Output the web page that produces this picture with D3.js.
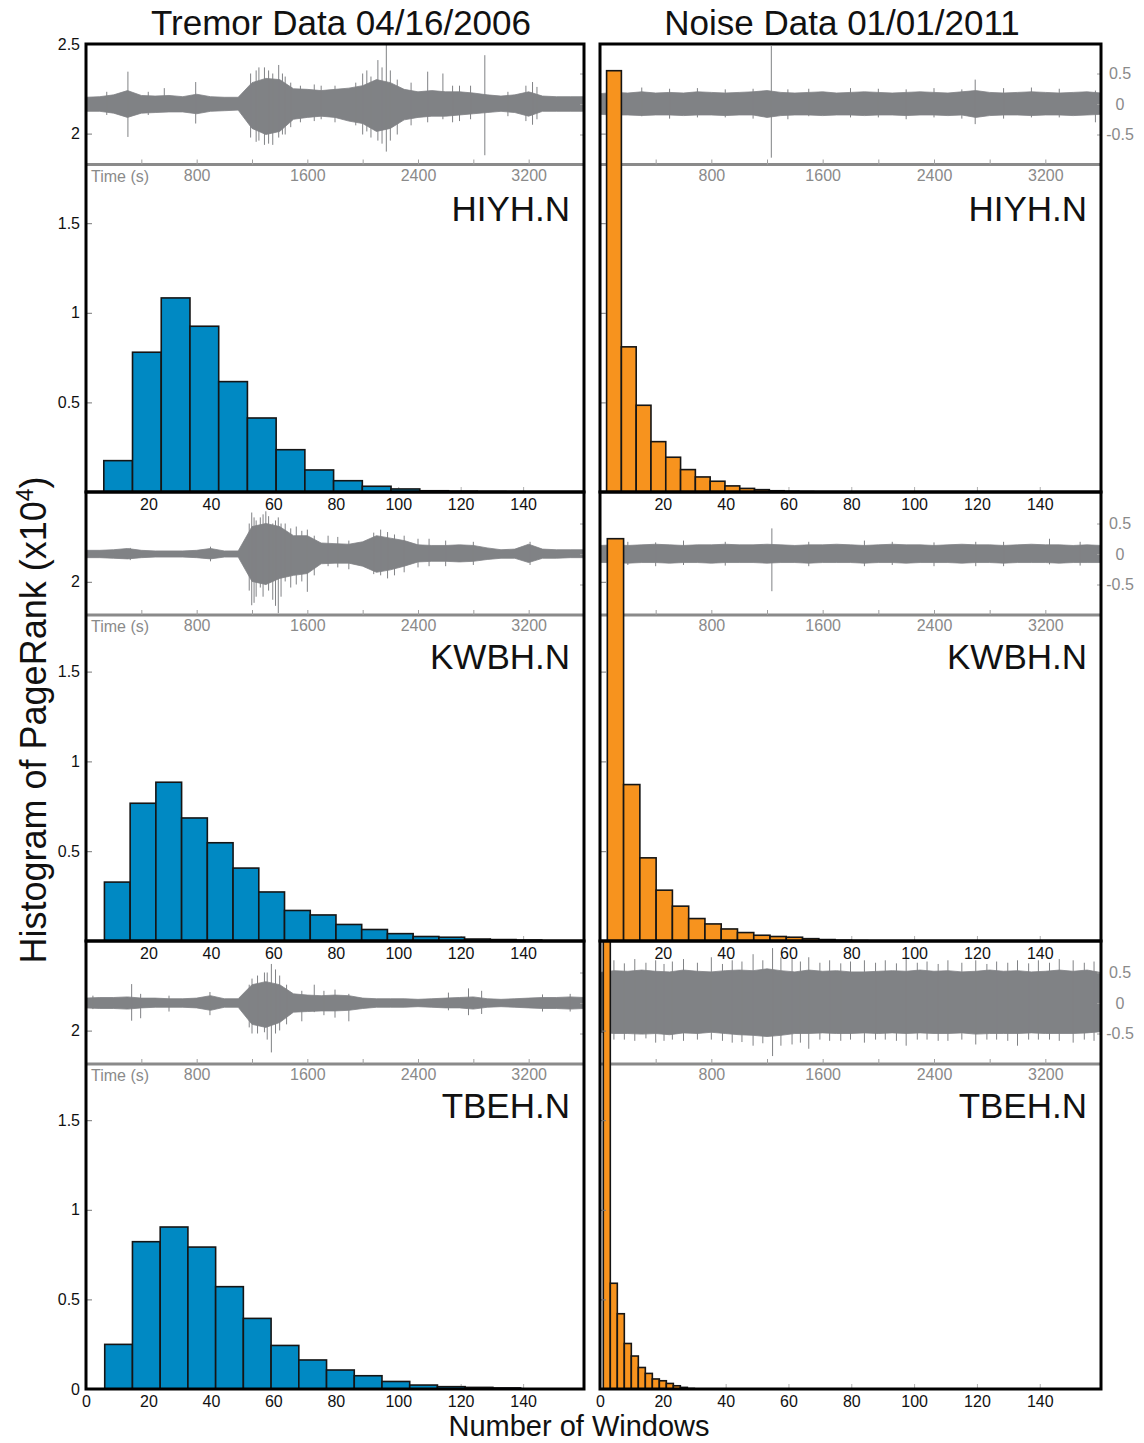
<!DOCTYPE html>
<html>
<head>
<meta charset="utf-8">
<script src="https://cdn.jsdelivr.net/npm/d3@7"></script>
<style>
  body { margin: 0; background: #fff; }
  text { font-family: "Liberation Sans", Arial, Helvetica, sans-serif; }
</style>
</head>
<body>
<script>
// ---- data ----
const stations = ['HIYH.N', 'KWBH.N', 'TBEH.N']
const columnTitles = ['Tremor Data 04/16/2006', 'Noise Data 01/01/2011']

// histograms of PageRank (x10^4) vs number of windows
const tremorBinStart = [5.7, 5.9, 6.0]
const tremorBinWidth = [9.2, 8.24, 8.88]
const tremorHIYH = [0.175, 0.78, 1.083, 0.925, 0.616, 0.413, 0.236, 0.123, 0.063, 0.032, 0.017, 0.007, 0.004, 0.002, 0.001, 0.001]
const tremorKWBH = [0.328, 0.767, 0.884, 0.685, 0.547, 0.406, 0.273, 0.17, 0.145, 0.092, 0.064, 0.041, 0.025, 0.021, 0.011, 0.008, 0.005]
const tremorTBEH = [0.249, 0.822, 0.904, 0.792, 0.571, 0.394, 0.243, 0.162, 0.106, 0.074, 0.042, 0.022, 0.013, 0.009, 0.006]

const noiseBinStart = [2.1, 2.33, 1.05]
const noiseBinWidth = [4.71, 5.18, 2.23]
const noiseHIYH = [2.351, 0.81, 0.484, 0.281, 0.194, 0.125, 0.084, 0.06, 0.034, 0.02, 0.013, 0.007, 0.004, 0.002, 0.001]
const noiseKWBH = [2.24, 0.871, 0.463, 0.283, 0.194, 0.125, 0.095, 0.067, 0.047, 0.032, 0.025, 0.021, 0.013, 0.008, 0.004, 0.002, 0.001]
const noiseTBEH = [2.6, 0.59, 0.42, 0.254, 0.184, 0.12, 0.087, 0.056, 0.046, 0.031, 0.018, 0.009, 0.003]

// waveform insets: envelope every 100 s, plus single spikes [time, top, bottom]
const waveTimes = [0, 100, 200, 300, 400, 500, 600, 700, 800, 900, 1000, 1100, 1200, 1300, 1400, 1500, 1600, 1700, 1800,
  1900, 2000, 2100, 2200, 2300, 2400, 2500, 2600, 2700, 2800, 2900, 3000, 3100, 3200, 3300, 3400, 3500, 3600]

const tremorHIYHUpper = [0.11, 0.12, 0.15, 0.22, 0.14, 0.13, 0.14, 0.12, 0.16, 0.12, 0.11, 0.11, 0.35, 0.42, 0.4, 0.25, 0.24, 0.22, 0.24,
  0.26, 0.3, 0.4, 0.35, 0.24, 0.2, 0.22, 0.2, 0.2, 0.18, 0.15, 0.13, 0.15, 0.2, 0.13, 0.12, 0.12, 0.12]
const tremorHIYHLower = [-0.12, -0.12, -0.15, -0.22, -0.15, -0.14, -0.13, -0.13, -0.16, -0.12, -0.11, -0.1, -0.4, -0.5, -0.45, -0.25, -0.22, -0.2, -0.22,
  -0.28, -0.32, -0.45, -0.4, -0.26, -0.22, -0.2, -0.2, -0.18, -0.16, -0.14, -0.12, -0.14, -0.2, -0.12, -0.12, -0.12, -0.12]
const tremorHIYHSpikes = [[150, 0.2, -0.18], [303, 0.53, -0.54], [450, 0.2, -0.18], [566, 0.26, -0.1], [793, 0.36, -0.32],
  [1190, 0.5, -0.55], [1230, 0.55, -0.62], [1250, 0.6, -0.6], [1290, 0.6, -0.67], [1320, 0.55, -0.65], [1350, 0.5, -0.67],
  [1393, 0.64, -0.55], [1420, 0.5, -0.5], [1440, 0.45, -0.5], [1480, 0.35, -0.38], [1550, 0.3, -0.3], [1650, 0.32, -0.28],
  [1700, 0.3, -0.25], [1800, 0.3, -0.3], [1950, 0.35, -0.35], [2000, 0.5, -0.5], [2030, 0.55, -0.45], [2060, 0.45, -0.55],
  [2110, 0.72, -0.6], [2140, 0.6, -0.65], [2171, 0.98, -0.78], [2200, 0.55, -0.6], [2250, 0.4, -0.5], [2350, 0.35, -0.35],
  [2470, 0.53, -0.3], [2580, 0.5, -0.25], [2650, 0.3, -0.3], [2700, 0.3, -0.28], [2780, 0.3, -0.25], [2883, 0.8, -0.84],
  [3050, 0.2, -0.2], [3180, 0.3, -0.28], [3228, 0.36, -0.34], [3260, 0.28, -0.25]]

const tremorKWBHUpper = [0.06, 0.06, 0.07, 0.09, 0.06, 0.05, 0.05, 0.05, 0.06, 0.09, 0.05, 0.05, 0.45, 0.5, 0.45, 0.3, 0.3, 0.18, 0.17,
  0.16, 0.2, 0.3, 0.26, 0.22, 0.15, 0.14, 0.14, 0.15, 0.14, 0.1, 0.07, 0.08, 0.16, 0.08, 0.07, 0.07, 0.07]
const tremorKWBHLower = [-0.06, -0.06, -0.07, -0.08, -0.06, -0.05, -0.05, -0.05, -0.06, -0.08, -0.05, -0.05, -0.45, -0.5, -0.4, -0.35, -0.32, -0.16, -0.15,
  -0.15, -0.2, -0.3, -0.26, -0.2, -0.13, -0.12, -0.12, -0.13, -0.12, -0.09, -0.07, -0.07, -0.14, -0.07, -0.07, -0.06, -0.06]
const tremorKWBHSpikes = [[320, 0.1, -0.1], [900, 0.12, -0.12], [1180, 0.5, -0.6], [1198, 0.68, -0.84], [1215, 0.6, -0.8],
  [1230, 0.55, -0.7], [1260, 0.6, -0.55], [1280, 0.65, -0.7], [1300, 0.7, -0.5], [1320, 0.62, -0.6], [1350, 0.5, -0.75],
  [1370, 0.55, -0.85], [1390, 0.6, -0.97], [1410, 0.5, -0.7], [1440, 0.5, -0.45], [1480, 0.42, -0.55], [1520, 0.45, -0.5],
  [1560, 0.38, -0.45], [1600, 0.4, -0.62], [1650, 0.3, -0.35], [1750, 0.3, -0.2], [1820, 0.28, -0.22], [1900, 0.22, -0.25],
  [2080, 0.35, -0.33], [2130, 0.4, -0.35], [2180, 0.36, -0.4], [2230, 0.32, -0.35], [2300, 0.3, -0.3], [2400, 0.25, -0.22],
  [2480, 0.25, -0.2], [2600, 0.22, -0.2], [2800, 0.2, -0.18], [3210, 0.2, -0.18]]

const tremorTBEHUpper = [0.08, 0.09, 0.09, 0.1, 0.08, 0.08, 0.07, 0.07, 0.08, 0.12, 0.07, 0.07, 0.3, 0.35, 0.3, 0.15, 0.13, 0.12, 0.13,
  0.12, 0.08, 0.07, 0.07, 0.07, 0.06, 0.07, 0.08, 0.09, 0.1, 0.07, 0.06, 0.07, 0.08, 0.09, 0.09, 0.1, 0.09]
const tremorTBEHLower = [-0.08, -0.09, -0.09, -0.1, -0.08, -0.07, -0.07, -0.07, -0.08, -0.12, -0.07, -0.07, -0.35, -0.4, -0.32, -0.15, -0.14, -0.13, -0.13,
  -0.12, -0.09, -0.07, -0.07, -0.07, -0.06, -0.07, -0.08, -0.08, -0.1, -0.07, -0.06, -0.07, -0.08, -0.09, -0.09, -0.1, -0.09]
const tremorTBEHSpikes = [[50, 0.12, -0.1], [330, 0.31, -0.29], [395, 0.15, -0.25], [600, 0.12, -0.14], [896, 0.18, -0.2],
  [1180, 0.3, -0.4], [1200, 0.4, -0.5], [1240, 0.45, -0.5], [1290, 0.5, -0.48], [1310, 0.5, -0.6], [1340, 0.64, -0.81],
  [1370, 0.55, -0.5], [1400, 0.45, -0.45], [1450, 0.3, -0.35], [1560, 0.2, -0.3], [1650, 0.3, -0.15], [1720, 0.2, -0.2],
  [1800, 0.22, -0.24], [1900, 0.15, -0.3], [2620, 0.17, -0.12], [2765, 0.24, -0.2], [2860, 0.2, -0.18], [3300, 0.14, -0.14],
  [3500, 0.15, -0.14]]

const noiseHIYHUpper = [0.17, 0.19, 0.18, 0.2, 0.18, 0.19, 0.18, 0.2, 0.19, 0.18, 0.19, 0.2, 0.22, 0.19, 0.18, 0.19, 0.2, 0.18, 0.19,
  0.2, 0.19, 0.18, 0.19, 0.2, 0.19, 0.18, 0.2, 0.22, 0.19, 0.18, 0.19, 0.2, 0.19, 0.18, 0.19, 0.2, 0.18]
const noiseHIYHLower = [-0.17, -0.18, -0.18, -0.19, -0.18, -0.18, -0.19, -0.18, -0.18, -0.19, -0.18, -0.18, -0.22, -0.19, -0.18, -0.18, -0.19, -0.18, -0.18,
  -0.19, -0.18, -0.18, -0.19, -0.18, -0.18, -0.19, -0.18, -0.22, -0.19, -0.18, -0.18, -0.19, -0.18, -0.18, -0.19, -0.18, -0.17]
const noiseHIYHSpikes = [[100, 0.24, -0.22], [300, 0.27, -0.2], [500, 0.25, -0.24], [700, 0.26, -0.22], [900, 0.24, -0.22],
  [1100, 0.25, -0.24], [1231, 0.95, -0.88], [1350, 0.24, -0.25], [1500, 0.25, -0.2], [1800, 0.26, -0.22], [2000, 0.25, -0.22],
  [2200, 0.24, -0.25], [2400, 0.26, -0.22], [2600, 0.24, -0.24], [2696, 0.4, -0.33], [2900, 0.26, -0.24], [3100, 0.27, -0.22],
  [3300, 0.25, -0.22], [3560, 0.22, -0.3]]

const noiseKWBHUpper = [0.14, 0.15, 0.14, 0.15, 0.16, 0.15, 0.14, 0.15, 0.15, 0.16, 0.15, 0.15, 0.16, 0.15, 0.14, 0.15, 0.15, 0.16, 0.15,
  0.14, 0.15, 0.16, 0.15, 0.15, 0.14, 0.15, 0.16, 0.15, 0.15, 0.14, 0.15, 0.16, 0.15, 0.15, 0.14, 0.15, 0.14]
const noiseKWBHLower = [-0.14, -0.14, -0.15, -0.14, -0.14, -0.15, -0.14, -0.14, -0.15, -0.14, -0.14, -0.14, -0.15, -0.14, -0.14, -0.15, -0.14, -0.14, -0.14,
  -0.15, -0.14, -0.14, -0.15, -0.14, -0.14, -0.14, -0.15, -0.14, -0.14, -0.15, -0.14, -0.14, -0.14, -0.15, -0.14, -0.14, -0.14]
const noiseKWBHSpikes = [[200, 0.2, -0.18], [400, 0.19, -0.2], [600, 0.22, -0.18], [900, 0.2, -0.19], [1235, 0.42, -0.61],
  [1500, 0.2, -0.2], [1900, 0.22, -0.2], [2100, 0.2, -0.18], [2400, 0.19, -0.2], [2700, 0.2, -0.2], [2900, 0.2, -0.2],
  [3230, 0.25, -0.17], [3450, 0.2, -0.19]]

const noiseTBEHUpper = [0.5, 0.53, 0.52, 0.54, 0.52, 0.51, 0.54, 0.52, 0.51, 0.53, 0.54, 0.53, 0.56, 0.53, 0.51, 0.54, 0.52, 0.53, 0.51,
  0.51, 0.52, 0.53, 0.52, 0.54, 0.52, 0.53, 0.51, 0.52, 0.54, 0.52, 0.53, 0.51, 0.52, 0.54, 0.52, 0.54, 0.5]
const noiseTBEHLower = [-0.48, -0.5, -0.5, -0.51, -0.5, -0.52, -0.49, -0.5, -0.48, -0.5, -0.52, -0.53, -0.55, -0.53, -0.5, -0.5, -0.49, -0.5, -0.5,
  -0.49, -0.5, -0.49, -0.5, -0.49, -0.5, -0.5, -0.49, -0.51, -0.5, -0.5, -0.5, -0.49, -0.5, -0.5, -0.5, -0.49, -0.47]
const noiseTBEHSpikes = [[30, 0.62, -0.58], [100, 0.7, -0.6], [175, 0.65, -0.6], [250, 0.72, -0.62], [330, 0.66, -0.58],
  [400, 0.7, -0.65], [460, 0.64, -0.62], [520, 0.68, -0.6], [600, 0.72, -0.62], [700, 0.66, -0.6], [800, 0.75, -0.6],
  [880, 0.64, -0.62], [950, 0.7, -0.65], [1020, 0.68, -0.64], [1100, 0.8, -0.7], [1170, 0.7, -0.66], [1240, 0.9, -0.87],
  [1300, 0.75, -0.7], [1380, 0.72, -0.68], [1440, 0.68, -0.65], [1500, 0.75, -0.75], [1580, 0.66, -0.6], [1650, 0.7, -0.62],
  [1730, 0.65, -0.62], [1800, 0.68, -0.6], [1900, 0.7, -0.65], [1980, 0.66, -0.6], [2050, 0.7, -0.6], [2130, 0.65, -0.62],
  [2200, 0.72, -0.7], [2280, 0.66, -0.6], [2350, 0.68, -0.6], [2430, 0.64, -0.62], [2500, 0.7, -0.62], [2600, 0.66, -0.6],
  [2700, 0.7, -0.68], [2780, 0.64, -0.6], [2850, 0.68, -0.6], [2930, 0.66, -0.62], [3000, 0.7, -0.7], [3080, 0.65, -0.6],
  [3150, 0.7, -0.6], [3230, 0.66, -0.6], [3300, 0.72, -0.62], [3400, 0.7, -0.65], [3480, 0.66, -0.6], [3550, 0.68, -0.62],
  [3600, 0.6, -0.58]]

// tick values
const histTicks = [20, 40, 60, 80, 100, 120, 140]
const histTicksBottom = [0, 20, 40, 60, 80, 100, 120, 140]
const rankTicks = [0.5, 1, 1.5, 2]
const timeTicks = [400, 800, 1200, 1600, 2000, 2400, 2800, 3200]
const timeLabels = [800, 1600, 2400, 3200]
const ampTicks = [0.5, 0, -0.5]

// ---- layout ----
const colX = [[86, 584], [600, 1101]]
const rowY = [[44, 492], [492, 941], [941, 1389]]
const insetMid = [104, 554, 1003]
const insetBase = [164.5, 615, 1064]
const barColors = ['#0089c3', '#f7931e']
const waveColor = '#808285'

const panels = [
  { r: 0, c: 0, counts: tremorHIYH, start: tremorBinStart[0], width: tremorBinWidth[0], up: tremorHIYHUpper, lo: tremorHIYHLower, spikes: tremorHIYHSpikes },
  { r: 1, c: 0, counts: tremorKWBH, start: tremorBinStart[1], width: tremorBinWidth[1], up: tremorKWBHUpper, lo: tremorKWBHLower, spikes: tremorKWBHSpikes },
  { r: 2, c: 0, counts: tremorTBEH, start: tremorBinStart[2], width: tremorBinWidth[2], up: tremorTBEHUpper, lo: tremorTBEHLower, spikes: tremorTBEHSpikes },
  { r: 0, c: 1, counts: noiseHIYH, start: noiseBinStart[0], width: noiseBinWidth[0], up: noiseHIYHUpper, lo: noiseHIYHLower, spikes: noiseHIYHSpikes },
  { r: 1, c: 1, counts: noiseKWBH, start: noiseBinStart[1], width: noiseBinWidth[1], up: noiseKWBHUpper, lo: noiseKWBHLower, spikes: noiseKWBHSpikes },
  { r: 2, c: 1, counts: noiseTBEH, start: noiseBinStart[2], width: noiseBinWidth[2], up: noiseTBEHUpper, lo: noiseTBEHLower, spikes: noiseTBEHSpikes }
]

panels.forEach(p => {
  p.left = colX[p.c][0]
  p.right = colX[p.c][1]
  p.top = rowY[p.r][0]
  p.bottom = rowY[p.r][1]
  p.x = d3.scaleLinear().domain([0, 159.5]).range([p.left, p.right])
  p.y = d3.scaleLinear().domain([0, 2.5]).range([p.bottom, p.top])
  p.t = d3.scaleLinear().domain([0, 3600]).range([p.left, p.right])
  p.a = d3.scaleLinear().domain([-0.5, 0.5]).range([insetMid[p.r] + 30.5, insetMid[p.r] - 30.5])
  p.id = 'clip-' + p.r + '-' + p.c
})

const svg = d3.select('body').append('svg')
  .attr('width', 1144)
  .attr('height', 1443)

const defs = svg.append('defs')
panels.forEach(p => {
  defs.append('clipPath').attr('id', p.id)
    .append('rect')
    .attr('x', p.left).attr('y', p.top)
    .attr('width', p.right - p.left).attr('height', p.bottom - p.top)
})

// waveform insets
const waveLayer = svg.append('g')
panels.forEach(p => {
  const g = waveLayer.append('g').attr('clip-path', 'url(#' + p.id + ')')
  const area = d3.area()
    .x((d, i) => p.t(waveTimes[i]))
    .y0(d => p.a(d[1]))
    .y1(d => p.a(d[0]))
  g.append('path')
    .datum(d3.zip(p.up, p.lo))
    .attr('d', area)
    .attr('fill', waveColor)
    .attr('stroke', waveColor)
    .attr('stroke-width', 0.8)
  g.selectAll('line.spike')
    .data(p.spikes)
    .join('line')
    .attr('class', 'spike')
    .attr('x1', d => p.t(d[0])).attr('x2', d => p.t(d[0]))
    .attr('y1', d => p.a(d[1])).attr('y2', d => p.a(d[2]))
    .attr('stroke', waveColor)
    .attr('stroke-width', 1)

  // time axis of the inset
  waveLayer.append('line')
    .attr('x1', p.left).attr('x2', p.right)
    .attr('y1', insetBase[p.r]).attr('y2', insetBase[p.r])
    .attr('stroke', '#8a8a8a').attr('stroke-width', 3)
  const ta = waveLayer.append('g')
    .attr('transform', 'translate(0,' + insetBase[p.r] + ')')
    .call(d3.axisBottom(p.t).tickValues(timeTicks).tickSizeInner(-5).tickSizeOuter(0).tickPadding(5)
      .tickFormat(d => timeLabels.includes(d) ? d : ''))
  ta.select('.domain').remove()
  ta.selectAll('line').attr('stroke', '#a0a0a0')
  ta.selectAll('text').attr('fill', '#8a8a8a').style('font-size', '16px')
  if (p.c === 0) {
    waveLayer.append('text')
      .attr('x', p.left + 5).attr('y', insetBase[p.r] + 17)
      .attr('fill', '#8a8a8a').style('font-size', '16px')
      .text('Time (s)')
  }

  // amplitude ticks on the right of the inset
  const aa = waveLayer.append('g')
    .attr('transform', 'translate(' + p.right + ',0)')
    .call(d3.axisRight(p.a).tickValues(ampTicks).tickSizeInner(-4).tickSizeOuter(0).tickPadding(6)
      .tickFormat(d => p.c === 1 ? String(d) : ''))
  aa.select('.domain').remove()
  aa.selectAll('line').attr('stroke', '#a0a0a0')
  aa.selectAll('text').attr('fill', '#8a8a8a').attr('text-anchor', 'middle').attr('x', 19)
    .style('font-size', '16px')
})

// histogram x tick marks (under the bars)
panels.forEach(p => {
  const xa = svg.append('g')
    .attr('transform', 'translate(0,' + p.bottom + ')')
    .call(d3.axisBottom(p.x).tickValues(histTicksBottom).tickSizeInner(-5).tickSizeOuter(0).tickFormat(''))
  xa.select('.domain').remove()
  xa.selectAll('line').attr('stroke', '#b0b0b0')
})

// histogram bars
panels.forEach(p => {
  const bins = p.counts.map((c, i) => ({ x0: p.start + i * p.width, x1: p.start + (i + 1) * p.width, c: c }))
  svg.append('g')
    .attr('clip-path', 'url(#' + p.id + ')')
    .selectAll('rect')
    .data(bins)
    .join('rect')
    .attr('x', d => p.x(d.x0))
    .attr('y', d => p.y(d.c))
    .attr('width', d => p.x(d.x1) - p.x(d.x0))
    .attr('height', d => p.y(0) - p.y(d.c))
    .attr('fill', barColors[p.c])
    .attr('stroke', '#151515')
    .attr('stroke-width', 1.6)
})

// y axes
panels.forEach(p => {
  let ticks = rankTicks
  if (p.r === 0) ticks = rankTicks.concat([2.5])
  if (p.r === 2) ticks = [0].concat(rankTicks)
  const ya = svg.append('g')
    .attr('transform', 'translate(' + p.left + ',0)')
    .call(d3.axisLeft(p.y).tickValues(ticks).tickSizeInner(-6).tickSizeOuter(0).tickPadding(6)
      .tickFormat(d => p.c === 0 ? String(d) : ''))
  ya.select('.domain').remove()
  ya.selectAll('line').attr('stroke', '#777')
  ya.selectAll('text').attr('fill', '#111').style('font-size', '16px')
})

// panel frames
panels.forEach(p => {
  svg.append('rect')
    .attr('x', p.left).attr('y', p.top)
    .attr('width', p.right - p.left).attr('height', p.bottom - p.top)
    .attr('fill', 'none')
    .attr('stroke', '#000')
    .attr('stroke-width', 3)
})

// histogram x tick labels (on top of everything)
panels.forEach(p => {
  const xa = svg.append('g')
    .attr('transform', 'translate(0,' + p.bottom + ')')
    .call(d3.axisBottom(p.x).tickValues(p.r === 2 ? histTicksBottom : histTicks).tickSize(0).tickPadding(7))
  xa.select('.domain').remove()
  xa.selectAll('text').attr('fill', '#111').style('font-size', '16px')
})

// station names
panels.forEach(p => {
  svg.append('text')
    .attr('x', p.right - 14)
    .attr('y', p.top + 177)
    .attr('text-anchor', 'end')
    .style('font-size', '35px')
    .attr('fill', '#111')
    .text(stations[p.r])
})

// titles and axis labels
svg.append('text').attr('x', 341).attr('y', 35).attr('text-anchor', 'middle')
  .style('font-size', '35px').attr('fill', '#111').text(columnTitles[0])
svg.append('text').attr('x', 842).attr('y', 35).attr('text-anchor', 'middle')
  .style('font-size', '35px').attr('fill', '#111').text(columnTitles[1])

svg.append('text').attr('x', 579).attr('y', 1436).attr('text-anchor', 'middle')
  .style('font-size', '29px').attr('fill', '#111').text('Number of Windows')

const yLabel = svg.append('text')
  .attr('transform', 'translate(46,720) rotate(-90)')
  .attr('text-anchor', 'middle')
  .style('font-size', '36px')
  .attr('fill', '#111')
yLabel.append('tspan').text('Histogram of PageRank (x10')
yLabel.append('tspan').attr('baseline-shift', 'super').style('font-size', '23px').text('4')
yLabel.append('tspan').text(')')
</script>
</body>
</html>
